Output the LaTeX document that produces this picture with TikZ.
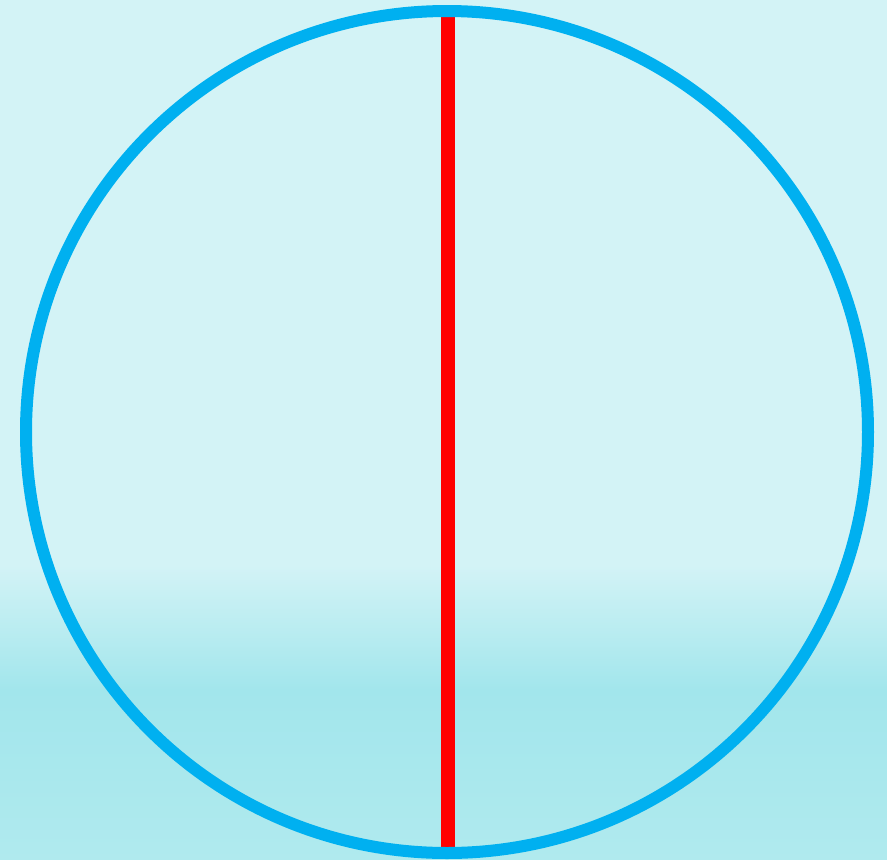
\documentclass[tikz,border=0pt]{standalone}
\definecolor{bgtop}{HTML}{D3F3F6}
\definecolor{bgmid}{HTML}{A2E6EC}
\definecolor{bgbot}{HTML}{B0EAEE}
\definecolor{ringblue}{HTML}{00B0F0}
\definecolor{linered}{HTML}{FF0000}
\begin{document}
\begin{tikzpicture}[x=1pt,y=-1pt,
  ring/.style={draw=ringblue,line width=12pt},
  diam/.style={draw=linered,line width=14pt}]
\useasboundingbox (0,0) rectangle (887,860);
\fill[bgtop] (0,0) rectangle (887,566);
\shade[top color=bgtop,bottom color=bgmid,draw=none] (0,565) rectangle (887,690);
\shade[top color=bgmid,bottom color=bgbot,draw=none] (0,689) rectangle (887,860);
\coordinate (c) at (447,432);
\coordinate (top) at (448,11);
\coordinate (bot) at (448,853);
\draw[diam] (top) -- (bot);
\draw[ring] (c) circle[radius=421];
\end{tikzpicture}
\end{document}
